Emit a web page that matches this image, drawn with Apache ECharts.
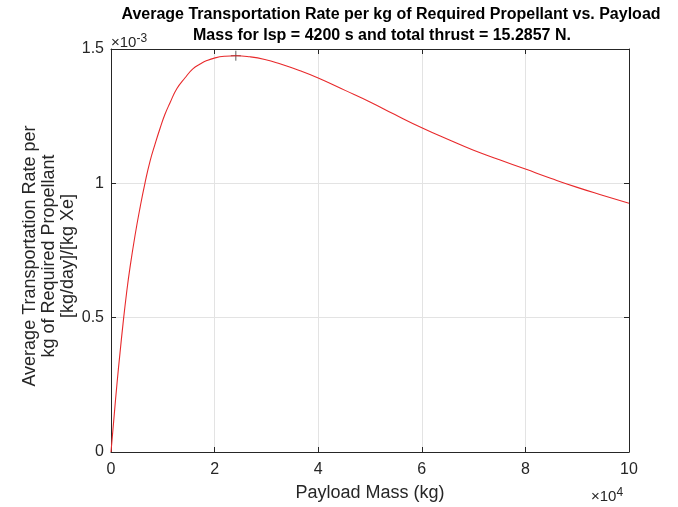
<!DOCTYPE html>
<html>
<head>
<meta charset="utf-8">
<script src="https://cdn.jsdelivr.net/npm/echarts@6/dist/echarts.min.js"></script>
<style>
  html, body { margin: 0; padding: 0; background: #fff; }
  #chart { width: 678px; height: 507px; }
</style>
</head>
<body>
<div id="chart"></div>
<script>
// payload mass (kg) and rate (x 1e-3 [kg/day]/[kg Xe])
var payloadMass = [0, 580, 1160, 1740, 2320, 3000, 3670, 4630, 5600, 6560, 7530, 8490, 9460, 10400, 11400, 12700, 14300, 15800, 17200, 18500, 20100, 22000, 24100,
  26800, 29700, 32600, 36500, 40000, 45200, 50000, 54800, 60000, 65000, 70000, 75000, 80000, 85000, 90000, 95000, 100000];
var rate = [0, 0.129, 0.255, 0.369, 0.477, 0.591, 0.687, 0.805, 0.909, 1.001, 1.082, 1.145, 1.204, 1.256, 1.300, 1.352, 1.393, 1.426, 1.444, 1.457, 1.467, 1.473, 1.475,
  1.471, 1.461, 1.445, 1.419, 1.392, 1.346, 1.303, 1.256, 1.207, 1.164, 1.123, 1.088, 1.053, 1.018, 0.985, 0.955, 0.926];
var peakPoint = [24100, 1.475];
var xTicks = [0, 2, 4, 6, 8, 10];
var yTicks = [0, 0.5, 1, 1.5];

var txt = '#262626';
var font = 'Liberation Sans, Arial, sans-serif';

var chart = echarts.init(document.getElementById('chart'));

var seriesData = [];
for (var i = 0; i < payloadMass.length; i++) seriesData.push([payloadMass[i], rate[i]]);

function xAx(pos, show) {
  return {
    type: 'value', position: pos, min: 0, max: 100000, interval: 20000,
    axisLine: { show: true, onZero: false, lineStyle: { color: txt, width: 1 } },
    axisTick: { show: true, inside: true, length: 5, lineStyle: { color: txt } },
    axisLabel: { show: show, margin: 10, color: txt, fontSize: 16, fontFamily: font,
      formatter: function (v) { return String(v / 10000); } },
    splitLine: { show: show, lineStyle: { color: '#e3e3e3', width: 1 } },
    name: show ? 'Payload Mass (kg)' : '', nameLocation: 'middle', nameGap: 32,
    nameTextStyle: { color: txt, fontSize: 18, fontFamily: font }
  };
}
function yAx(pos, show) {
  return {
    type: 'value', position: pos, min: 0, max: 1.5, interval: 0.5,
    axisLine: { show: true, onZero: false, lineStyle: { color: txt, width: 1 } },
    axisTick: { show: true, inside: true, length: 5, lineStyle: { color: txt } },
    axisLabel: { show: show, margin: 7, color: txt, fontSize: 16, fontFamily: font,
      formatter: function (v) { return String(v); } },
    splitLine: { show: show, lineStyle: { color: '#e3e3e3', width: 1 } }
  };
}

option = {
  animation: false,
  grid: { left: 111, top: 49, width: 518, height: 406 },
  xAxis: [xAx('bottom', true), xAx('top', false)],
  yAxis: [yAx('left', true), yAx('right', false)],
  graphic: [
    { type: 'text', x: 391, y: 15, style: { text: 'Average Transportation Rate per kg of Required Propellant vs. Payload',
      fill: '#000', font: 'bold 16px ' + font, textAlign: 'center', textVerticalAlign: 'middle' } },
    { type: 'text', x: 382, y: 36, style: { text: 'Mass for Isp = 4200 s and total thrust = 15.2857 N.',
      fill: '#000', font: 'bold 16px ' + font, textAlign: 'center', textVerticalAlign: 'middle' } },
    { type: 'text', x: 111, y: 33, style: { text: '×10{s|-3}', fill: txt, font: '15px ' + font,
      rich: { s: { fontSize: 12, verticalAlign: 'top', fill: txt, fontFamily: font, padding: [0, 0, 7, 0] } } } },
    { type: 'text', x: 591, y: 487, style: { text: '×10{s|4}', fill: txt, font: '15px ' + font,
      rich: { s: { fontSize: 12, verticalAlign: 'top', fill: txt, fontFamily: font, padding: [0, 0, 7, 0] } } } },
    { type: 'text', x: 49, y: 256, rotation: Math.PI / 2, style: {
      text: 'Average Transportation Rate per\nkg of Required Propellant\n[kg/day]/[kg Xe]',
      fill: txt, font: '18px ' + font, textAlign: 'center', textVerticalAlign: 'middle', lineHeight: 19 } }
  ],
  series: [
    {
      type: 'line', data: seriesData, smooth: 0.5, showSymbol: false,
      lineStyle: { color: '#e8292b', width: 1.1 }, itemStyle: { color: '#e8292b' }
    },
    {
      type: 'scatter', data: [peakPoint], symbol: 'path://M0,-6L0,6M-6,0L6,0', symbolSize: 10,
      itemStyle: { color: 'none', borderColor: '#333', borderWidth: 1 }
    }
  ]
};
chart.setOption(option);
</script>
</body>
</html>
